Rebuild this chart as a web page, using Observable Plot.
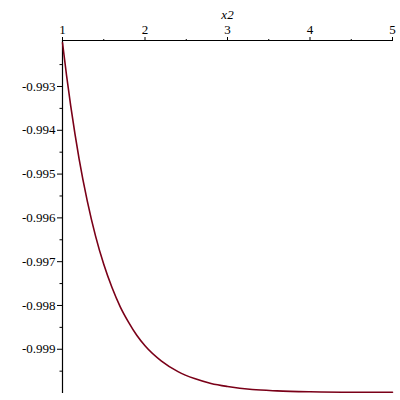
<!DOCTYPE html>
<html>
<head>
<meta charset="utf-8">
<script src="https://cdn.jsdelivr.net/npm/d3@7"></script>
<script src="https://cdn.jsdelivr.net/npm/@observablehq/plot@0.6"></script>
<style>
  html, body { margin: 0; padding: 0; background: #fff; }
  #chart svg { font-family: "Liberation Serif", "Times New Roman", serif !important; font-size: 13px !important; background: #fff; color: #000; }
  #chart svg text { font-family: "Liberation Serif", "Times New Roman", serif !important; font-variant: normal !important; }
</style>
</head>
<body>
<div id="chart"></div>
<script>
const xValues = [1.0, 1.05, 1.1, 1.15, 1.2, 1.3, 1.4, 1.5, 1.6, 1.7, 1.8, 1.9, 2.0, 2.2, 2.4, 2.6, 2.8, 3.0, 3.3, 3.6, 4.0, 4.5, 5.0];
const yValues = [-0.99200, -0.99276, -0.99345, -0.99407, -0.99464, -0.99561, -0.99641, -0.99706, -0.99759, -0.99803, -0.99838, -0.99868, -0.99892, -0.99927, -0.99951, -0.99967, -0.99978, -0.99985, -0.99992, -0.99995, -0.99997, -0.99998, -0.99998];
const xTicks = [1, 2, 3, 4, 5];
const xMinorTicks = [1.5, 2.5, 3.5, 4.5];
const yTicks = [-0.993, -0.994, -0.995, -0.996, -0.997, -0.998, -0.999];
const yMinorTicks = [-0.9925, -0.9935, -0.9945, -0.9955, -0.9965, -0.9975, -0.9985, -0.9995];
const xLabel = "x2";
const yDomain = [-1.00001, -0.99195];

const data = xValues.map((x, i) => ({x, y: yValues[i]}));

const chart = Plot.plot({
  width: 400,
  height: 400,
  marginTop: 40,
  marginLeft: 62,
  marginRight: 8,
  marginBottom: 7,
  x: {domain: [1, 5]},
  y: {domain: yDomain},
  marks: [
    Plot.ruleX([1], {stroke: "black", strokeWidth: 1.2}),
    Plot.ruleY([yDomain[1]], {stroke: "black", strokeWidth: 1.2}),
    Plot.axisX(xTicks, {anchor: "top", tickSize: 4, tickPadding: 3, label: null, tickFormat: d => String(d)}),
    Plot.axisX(xMinorTicks, {anchor: "top", tickSize: 2, label: null, tickFormat: () => ""}),
    Plot.axisY(yTicks, {anchor: "left", tickSize: 5, tickPadding: 2, label: null, tickFormat: d => "-" + (-d).toFixed(3)}),
    Plot.axisY(yMinorTicks, {anchor: "left", tickSize: 2.5, label: null, tickFormat: () => ""}),
    Plot.text([xLabel], {frameAnchor: "top", text: d => d, dy: -22, lineAnchor: "bottom", fontStyle: "italic"}),
    Plot.line(data, {x: "x", y: "y", stroke: "#7a0018", strokeWidth: 1.6, curve: "monotone-x"})
  ]
});
document.getElementById("chart").appendChild(chart);
</script>
</body>
</html>
